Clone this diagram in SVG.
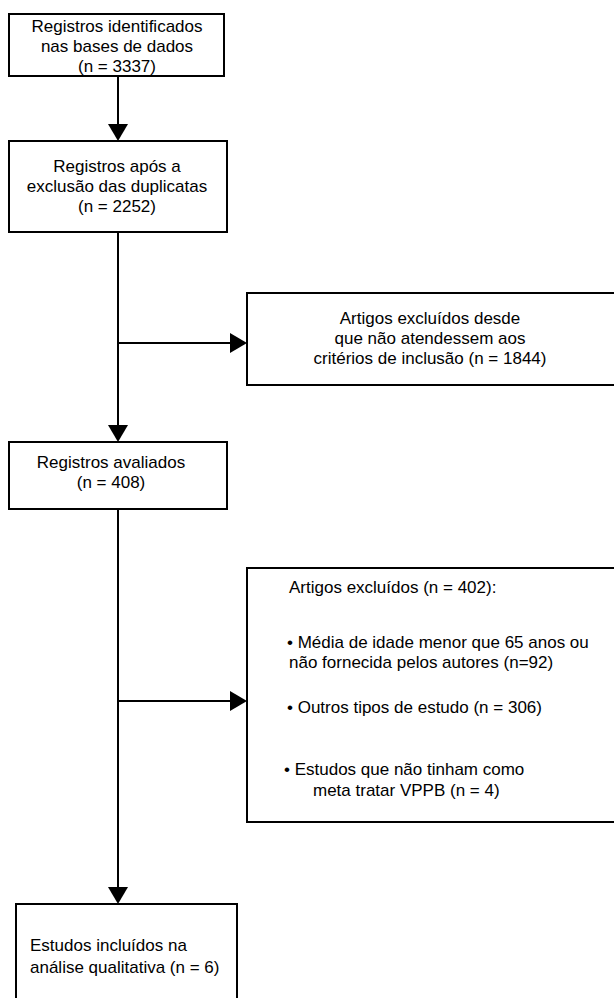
<svg xmlns="http://www.w3.org/2000/svg" width="614" height="998" viewBox="0 0 614 998">
<defs>
<style>
.box{fill:#fff;stroke:#000;stroke-width:2}
.t{font-family:"Liberation Sans",Arial,Helvetica,sans-serif;font-size:17px;fill:#000}
.c{text-anchor:middle}
.ln{fill:none;stroke:#000;stroke-width:2;marker-end:url(#ah)}
.pl{fill:none;stroke:#000;stroke-width:2}
</style>
<marker id="ah" markerUnits="userSpaceOnUse" viewBox="0 0 17 20" refX="15" refY="10" markerWidth="17" markerHeight="20" orient="auto">
<path d="M0,0 L17,10 L0,20 z" fill="#000"/>
</marker>
</defs>
<rect width="614" height="998" fill="#fff"/>
<g id="connectors">
<line class="ln" x1="118" y1="76" x2="118" y2="139"/>
<line class="pl" x1="118" y1="232" x2="118" y2="343"/>
<line class="ln" x1="118" y1="343" x2="118" y2="440"/>
<line class="ln" x1="118" y1="343" x2="245" y2="343"/>
<line class="pl" x1="118" y1="509" x2="118" y2="701"/>
<line class="ln" x1="118" y1="701" x2="118" y2="902"/>
<line class="ln" x1="118" y1="701" x2="245" y2="701"/>
</g>
<g id="node1">
<rect class="box" x="9" y="14" width="215" height="62"/>
<text class="t c" x="117" y="32">Registros identificados</text>
<text class="t c" x="117" y="52">nas bases de dados</text>
<text class="t c" x="117" y="72">(n = 3337)</text>
</g>
<g id="node2">
<rect class="box" x="9" y="141" width="218" height="91"/>
<text class="t c" x="117" y="172">Registros após a</text>
<text class="t c" x="117" y="192">exclusão das duplicatas</text>
<text class="t c" x="117" y="212">(n = 2252)</text>
</g>
<g id="node3">
<rect class="box" x="247" y="293" width="372" height="92"/>
<text class="t c" x="430" y="324">Artigos excluídos desde</text>
<text class="t c" x="430" y="344">que não atendessem aos</text>
<text class="t c" x="430" y="364">critérios de inclusão (n = 1844)</text>
</g>
<g id="node4">
<rect class="box" x="9" y="442" width="218" height="67"/>
<text class="t c" x="111" y="468">Registros avaliados</text>
<text class="t c" x="111" y="488">(n = 408)</text>
</g>
<g id="node5">
<rect class="box" x="247" y="568" width="372" height="254"/>
<text class="t" x="289" y="593">Artigos excluídos (n = 402):</text>
<text class="t" x="287" y="648">• Média de idade menor que 65 anos ou</text>
<text class="t" x="289" y="668">não fornecida pelos autores (n=92)</text>
<text class="t" x="287" y="713">• Outros tipos de estudo (n = 306)</text>
<text class="t" x="284" y="775">• Estudos que não tinham como</text>
<text class="t" x="313" y="796">meta tratar VPPB (n = 4)</text>
</g>
<g id="node6">
<rect class="box" x="16" y="904" width="221" height="110"/>
<text class="t" x="30" y="951">Estudos incluídos na</text>
<text class="t" x="30" y="973">análise qualitativa (n = 6)</text>
</g>
</svg>
